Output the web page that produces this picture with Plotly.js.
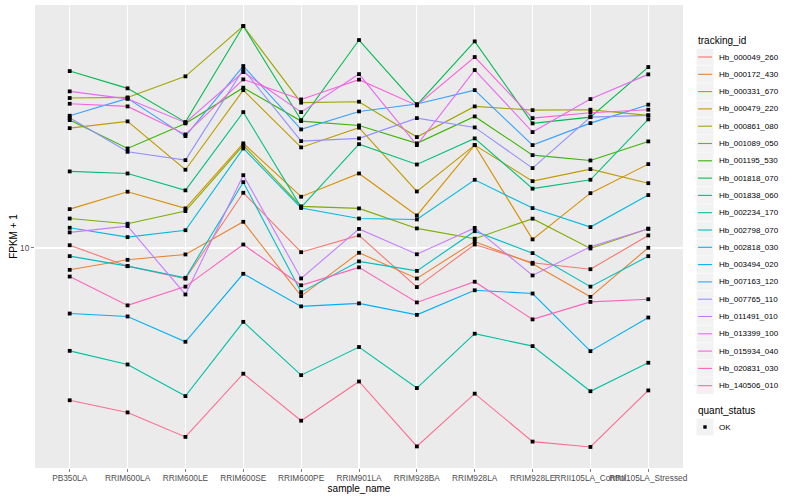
<!DOCTYPE html>
<html><head><meta charset="utf-8">
<script src="https://cdn.plot.ly/plotly-3.0.1.min.js"></script>
<style>body{margin:0;background:#fff}#chart{width:800px;height:500px}</style>
</head><body><div id="chart"></div>
<script>
const samples = ["PB350LA","RRIM600LA","RRIM600LE","RRIM600SE","RRIM600PE","RRIM901LA","RRIM928BA","RRIM928LA","RRIM928LE","RRII105LA_Control","RRII105LA_Stressed"];
const trackingIds = ["Hb_000049_260","Hb_000172_430","Hb_000331_670","Hb_000479_220","Hb_000861_080","Hb_001089_050","Hb_001195_530","Hb_001818_070","Hb_001838_060","Hb_002234_170","Hb_002798_070","Hb_002818_030","Hb_003494_020","Hb_007163_120","Hb_007765_110","Hb_011491_010","Hb_013399_100","Hb_015934_040","Hb_020831_030","Hb_140506_010"];
const colors = ["#F8766D","#EA8331","#D89000","#C09B00","#A3A500","#7CAE00","#39B600","#00BB4E","#00BF7D","#00C1A3","#00BFC4","#00BAE0","#00B0F6","#35A2FF","#9590FF","#C77CFF","#E76BF3","#FA62DB","#FF62BC","#FF6C91"];
const quantStatus = ["OK"];

const Hb_000049_260 = [10.15, 9.05, 8.45, 13.53, 9.77, 10.71, 8.07, 10.19, 9.22, 8.90, 10.71];
const Hb_000172_430 = [8.87, 9.37, 9.65, 11.54, 7.68, 9.74, 8.46, 10.36, 9.17, 7.65, 10.01];
const Hb_000331_670 = [12.37, 13.61, 12.42, 17.74, 13.24, 15.04, 11.95, 17.57, 10.48, 13.50, 15.83];
const Hb_000479_220 = [19.28, 20.01, 15.35, 23.75, 17.35, 19.33, 13.63, 17.57, 14.42, 15.40, 14.26];
const Hb_000861_080 = [22.74, 22.82, 25.61, 33.74, 22.17, 22.29, 18.36, 21.72, 21.28, 21.33, 20.68];
const Hb_001089_050 = [11.75, 11.42, 12.24, 17.54, 12.56, 12.42, 11.13, 10.52, 11.74, 9.97, 11.11];
const Hb_001195_530 = [20.15, 17.25, 19.79, 24.07, 20.04, 19.57, 17.74, 20.56, 16.63, 16.15, 17.93];
const Hb_001818_070 = [26.36, 23.98, 19.93, 33.74, 20.15, 31.25, 21.90, 31.02, 19.79, 20.48, 26.95];
const Hb_001838_060 = [15.21, 15.04, 13.71, 21.05, 12.49, 17.66, 15.80, 18.23, 13.84, 14.53, 20.23];
const Hb_002234_170 = [5.69, 5.28, 4.44, 6.67, 4.98, 5.81, 4.64, 6.25, 5.84, 4.56, 5.33];
const Hb_002798_070 = [9.56, 9.05, 8.49, 14.34, 7.85, 9.29, 8.82, 10.96, 9.72, 8.09, 9.56];
const Hb_002818_030 = [11.17, 10.61, 11.02, 17.25, 12.45, 11.75, 11.69, 14.53, 12.44, 11.21, 13.36];
const Hb_003494_020 = [6.98, 6.87, 5.98, 8.68, 7.26, 7.38, 6.93, 7.93, 7.79, 5.68, 6.83];
const Hb_007163_120 = [20.64, 22.70, 18.46, 27.10, 19.15, 21.13, 22.00, 23.75, 17.57, 19.82, 21.93];
const Hb_007765_110 = [20.42, 16.94, 16.18, 26.61, 17.96, 18.23, 20.37, 19.36, 15.49, 20.48, 20.68];
const Hb_011491_010 = [10.89, 11.27, 7.75, 14.90, 8.46, 11.10, 9.66, 11.16, 8.60, 10.07, 11.11];
const Hb_013399_100 = [23.59, 22.64, 19.87, 26.22, 21.05, 25.93, 17.57, 26.51, 18.87, 22.61, 25.89];
const Hb_015934_040 = [22.04, 21.72, 18.63, 25.19, 22.57, 25.15, 21.84, 28.47, 20.37, 20.98, 21.33];
const Hb_020831_030 = [8.55, 7.30, 8.09, 10.19, 8.15, 8.99, 7.42, 8.31, 6.76, 7.44, 7.55];
const Hb_140506_010 = [4.34, 4.06, 3.55, 5.02, 3.88, 4.81, 3.37, 4.50, 3.46, 3.36, 4.58];

const seriesValues = [Hb_000049_260, Hb_000172_430, Hb_000331_670, Hb_000479_220, Hb_000861_080, Hb_001089_050, Hb_001195_530, Hb_001818_070, Hb_001838_060, Hb_002234_170, Hb_002798_070, Hb_002818_030, Hb_003494_020, Hb_007163_120, Hb_007765_110, Hb_011491_010, Hb_013399_100, Hb_015934_040, Hb_020831_030, Hb_140506_010];

const FONT = "Liberation Sans, Arial, Helvetica, sans-serif";
const W = 800, H = 500, L = 35, R = 117, T = 5, B = 32;
const pw = W - L - R, ph = H - T - B;
const px = x => (x - L) / pw;
const py = y => (H - B - y) / ph;

const traces = [];
seriesValues.forEach((vals, i) => {
  traces.push({
    type: 'scatter', mode: 'lines', x: samples, y: vals,
    name: trackingIds[i], line: {color: colors[i], width: 1.1},
    showlegend: false, hoverinfo: 'x+y+name'
  });
});
// points layer (quant_status = OK), drawn on top like geom_point
const allX = [], allY = [];
seriesValues.forEach(vals => vals.forEach((v, j) => { allX.push(samples[j]); allY.push(v); }));
traces.push({
  type: 'scatter', mode: 'markers', x: allX, y: allY, name: quantStatus[0],
  marker: {symbol: 'square', size: 3.8, color: '#000000'}, showlegend: false, hoverinfo: 'skip'
});

// y range with 5% expansion (log space)
const logs = allY.map(v => Math.log10(v));
const lo = Math.min(...logs), hi = Math.max(...logs), sp = hi - lo;

const shapes = [], annotations = [];
annotations.push({xref:'paper', yref:'paper', x: px(696), y: py(40.5), text: 'tracking_id', showarrow:false, xanchor:'left', yanchor:'middle', font:{family:FONT, size:10, color:'#000'}});
const step = 17.3, y0 = 57;
trackingIds.forEach((id, i) => {
  const cy = y0 + i * step;
  shapes.push({type:'rect', xref:'paper', yref:'paper', x0: px(696.5), x1: px(713.5), y0: py(cy + 8.4), y1: py(cy - 8.4), fillcolor:'#F2F2F2', line:{width:0}, layer:'above'});
  shapes.push({type:'line', xref:'paper', yref:'paper', x0: px(698), x1: px(712), y0: py(cy), y1: py(cy), line:{color: colors[i], width:1.1}, layer:'above'});
  annotations.push({xref:'paper', yref:'paper', x: px(716.5), y: py(cy), text: id, showarrow:false, xanchor:'left', yanchor:'middle', font:{family:FONT, size:8, color:'#000'}});
});
annotations.push({xref:'paper', yref:'paper', x: px(696), y: py(410), text: 'quant_status', showarrow:false, xanchor:'left', yanchor:'middle', font:{family:FONT, size:10, color:'#000'}});
const okY = 427;
shapes.push({type:'rect', xref:'paper', yref:'paper', x0: px(696.5), x1: px(713.5), y0: py(okY + 8.4), y1: py(okY - 8.4), fillcolor:'#F2F2F2', line:{width:0}, layer:'above'});
shapes.push({type:'rect', xref:'paper', yref:'paper', x0: px(703.3), x1: px(706.7), y0: py(okY + 1.7), y1: py(okY - 1.7), fillcolor:'#000', line:{width:0}, layer:'above'});
annotations.push({xref:'paper', yref:'paper', x: px(716.5), y: py(okY), text: quantStatus[0], showarrow:false, xanchor:'left', yanchor:'middle', font:{family:FONT, size:8, color:'#000'}});

const layout = {
  width: W, height: H,
  margin: {l: L, r: R, t: T, b: B, pad: 0},
  paper_bgcolor: '#FFFFFF', plot_bgcolor: '#EBEBEB',
  showlegend: false,
  font: {family: FONT, size: 8, color: '#000'},
  xaxis: {
    type: 'category', categoryorder: 'array', categoryarray: samples,
    range: [-0.6, samples.length - 0.4], tickangle: 0,
    showgrid: true, gridcolor: '#FFFFFF', gridwidth: 1.1, zeroline: false, showline: false,
    ticks: 'outside', ticklen: 3, tickcolor: '#7F7F7F', tickwidth: 1, ticklabelstandoff: -1,
    tickfont: {family: FONT, size: 8.3, color: '#4D4D4D'},
    title: {text: 'sample_name', font: {family: FONT, size: 10, color: '#000'}, standoff: 1}
  },
  yaxis: {
    type: 'log', range: [lo - 0.05 * sp, hi + 0.05 * sp],
    tickvals: [10], ticktext: ['10'],
    showgrid: true, gridcolor: '#FFFFFF', gridwidth: 1.1, zeroline: false, showline: false,
    ticks: 'outside', ticklen: 3, tickcolor: '#7F7F7F', tickwidth: 1,
    tickfont: {family: FONT, size: 8.3, color: '#4D4D4D'},
    title: {text: 'FPKM + 1', font: {family: FONT, size: 10, color: '#000'}, standoff: 0}
  },
  shapes: shapes,
  annotations: annotations
};
Plotly.newPlot('chart', traces, layout, {displayModeBar: false, staticPlot: true});
</script>
</body></html>
